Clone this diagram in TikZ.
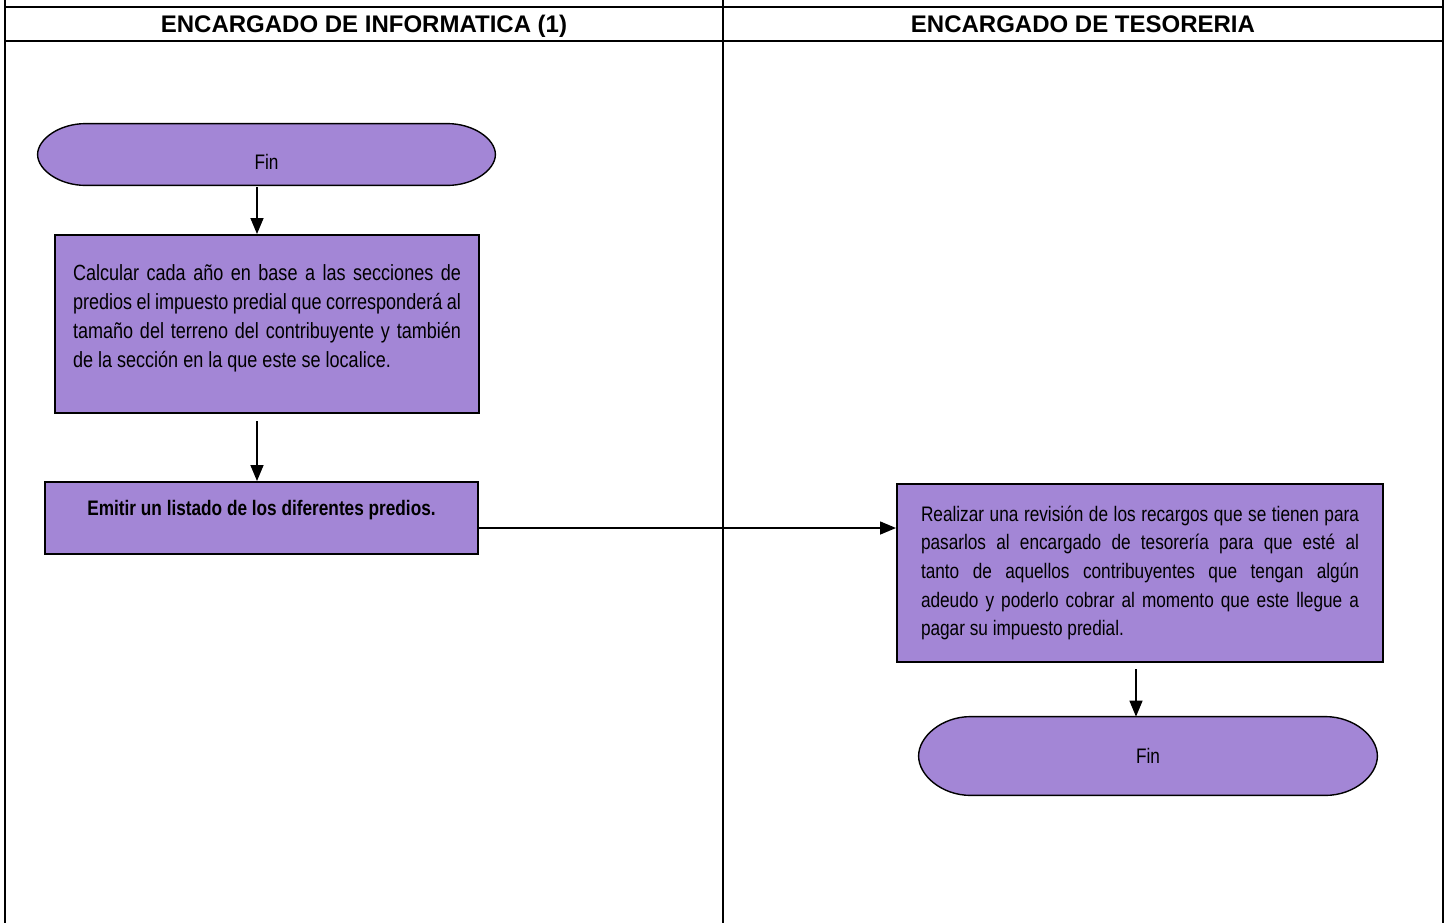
\documentclass[tikz,border=0pt]{standalone}
\usepackage{fontspec}
\setmainfont{Liberation Sans}
\newfontfamily\narrowfont[FakeStretch=0.82]{Liberation Sans}
\usetikzlibrary{positioning, calc, arrows.meta, backgrounds}
\definecolor{lavender}{RGB}{163,134,214}
\tikzset{
  procbox/.style={draw=black, line width=1pt, fill=lavender, inner ysep=0pt,
    font=\narrowfont\fontsize{11}{14.4}\selectfont},
  termnode/.style={inner sep=0pt, font=\narrowfont\fontsize{10.5}{12}\selectfont},
  termline/.style={draw=black, line width=0.7pt, fill=lavender},
  flowarrow/.style={draw=black, line width=0.8pt, -{Triangle[length=8pt,width=6.5pt]}},
  laneline/.style={draw=black, line width=1.2pt},
  lanehead/.style={font=\fontsize{12}{14}\selectfont\bfseries, text height=8.6pt, text depth=0pt}
}
% outline of a terminator node: node, end length, half height
\newcommand{\termoutline}[3]{%
  \filldraw[termline] (#1.west)
    .. controls ([yshift=0.5*#3]#1.west) and ([xshift=0.448*#2]#1.north west) .. ([xshift=#2]#1.north west)
    -- ([xshift=-#2]#1.north east)
    .. controls ([xshift=-0.448*#2]#1.north east) and ([yshift=0.5*#3]#1.east) .. (#1.east)
    .. controls ([yshift=-0.5*#3]#1.east) and ([xshift=-0.448*#2]#1.south east) .. ([xshift=-#2]#1.south east)
    -- ([xshift=#2]#1.south west)
    .. controls ([xshift=0.448*#2]#1.south west) and ([yshift=-0.5*#3]#1.west) .. cycle;}

\begin{document}
\begin{tikzpicture}[x=0.5pt, y=-0.5pt]
  \useasboundingbox (0,0) rectangle (1448,923);
  % swimlanes
  \draw[laneline] (5,0) -- (5,923);
  \draw[laneline] (723,0) -- (723,923);
  \draw[laneline] (1443,0) -- (1443,923);
  \draw[laneline] (5,7) -- (1443,7);
  \draw[laneline] (5,41) -- (1443,41);
  \node[lanehead] (lane1) at (364,24) {ENCARGADO DE INFORMATICA (1)};
  \node[lanehead] (lane2) at (1083,24) {ENCARGADO DE TESORERIA};

  % informatica
  \node[termnode, minimum width=228.5pt, minimum height=30.5pt, text height=14.5pt, text depth=0pt]
    (fin1) at (266.5,154.5) {Fin};
  \node[procbox, text width=194pt, inner xsep=9pt, minimum height=89pt, align=justify]
    (calcular) at (267,324) {Calcular cada año en base a las secciones de predios el impuesto
    predial que corresponderá al tamaño del terreno del contribuyente y también de la sección
    en la que este se localice.\rule[-8pt]{0pt}{1pt}};
  \node[procbox, minimum width=216.5pt, minimum height=36pt, text height=7.5pt, text depth=10pt,
    font=\narrowfont\fontsize{10.5}{12}\selectfont\bfseries]
    (emitir) at (261.5,518) {Emitir un listado de los diferentes predios.};

  % tesoreria
  \node[procbox, text width=219pt, inner xsep=12pt, minimum height=89pt, align=justify,
    font=\narrowfont\fontsize{10.5}{14.3}\selectfont]
    (revisar) at (1140,573) {Realizar una revisión de los recargos que se tienen para\linebreak
    pasarlos al encargado de tesorería para que esté al\linebreak tanto de aquellos
    contribuyentes que tengan algún\linebreak adeudo y poderlo cobrar al momento que este
    llegue a\linebreak pagar su impuesto predial.};
  \node[termnode, minimum width=229pt, minimum height=39pt] (fin2) at (1148,756) {Fin};

  \begin{pgfonlayer}{background}
    \termoutline{fin1}{24pt}{15.25pt}
    \termoutline{fin2}{26pt}{19.5pt}
  \end{pgfonlayer}

  % connectors
  \coordinate (a1) at ([xshift=-4.75pt,yshift=-1pt]fin1.south);
  \draw[flowarrow] (a1) -- (a1 |- calcular.north);
  \coordinate (a2) at ([xshift=-5pt,yshift=-3.5pt]calcular.south);
  \draw[flowarrow] (a2) -- (a2 |- emitir.north);
  \coordinate (a3) at ([yshift=-5pt]emitir.east);
  \draw[flowarrow] (a3) -- (a3 -| revisar.west);
  \coordinate (a4) at ([xshift=-2pt,yshift=-3pt]revisar.south);
  \draw[flowarrow] (a4) -- (a4 |- fin2.north);
\end{tikzpicture}
\end{document}
